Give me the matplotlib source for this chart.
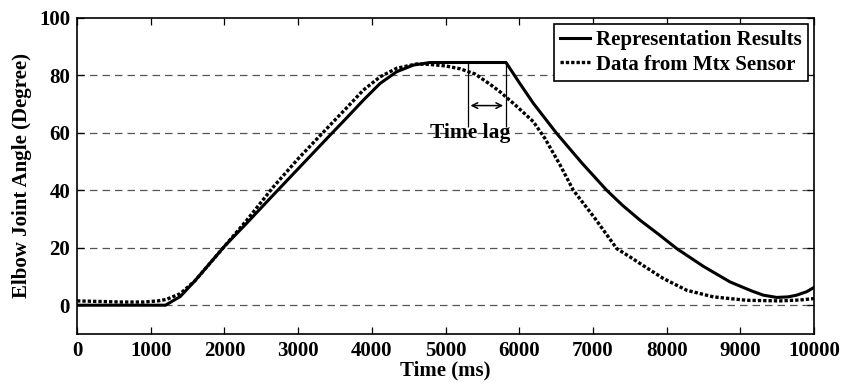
import matplotlib
matplotlib.use('Agg')
import matplotlib.pyplot as plt

plt.rcParams['font.family'] = ['Liberation Serif', 'DejaVu Serif']
plt.rcParams['font.weight'] = 'bold'

# representation results (solid)
t_rep = [0, 1200, 1400, 1600, 1800, 2000, 2300, 2619, 3000, 3433, 3650, 3885,
         4111, 4338, 4563, 4790, 5820, 6000, 6191, 6508, 6850, 7187, 7400, 7639,
         7900, 8137, 8500, 8860, 9000, 9150, 9310, 9494, 9650, 9765, 9900, 10000]
v_rep = [0, 0, 3, 8.5, 14.5, 20.5, 28.5, 37.2, 47.5, 59.2, 65, 71.4,
         77.2, 81.3, 83.6, 84.5, 84.5, 77.5, 70.3, 59.8, 49.5, 40, 34.8, 29.6,
         24.5, 19.7, 13.5, 8.1, 6.6, 5, 3.5, 2.7, 2.9, 3.5, 4.7, 6.2]

# Mtx sensor data (dotted)
t_mtx = [0, 300, 600, 900, 1100, 1210, 1400, 1600, 1800, 2000, 2300, 2664, 3000,
         3433, 3650, 3885, 4111, 4338, 4609, 4800, 5000, 5200, 5400, 5600, 5739,
         5950, 6191, 6350, 6550, 6734, 7028, 7323, 7503, 7700, 7955, 8272, 8634,
         9087, 9539, 9800, 10000]
v_mtx = [1.5, 1.3, 1.1, 1.1, 1.5, 2, 4, 8.5, 14.5, 20.5, 29.5, 41.2, 51,
         62.7, 68.5, 74.9, 79.5, 82.5, 84.0, 83.8, 83.3, 82.3, 80.5, 77, 74.3,
         69.6, 63.9, 58, 49, 40, 30.2, 19.7, 16.8, 13.5, 9.3, 5.2, 2.9,
         1.7, 1.5, 1.8, 2.3]

lag_start, lag_end = 5300, 5820

fig = plt.figure(figsize=(8.56, 3.91), dpi=100)
ax = fig.add_axes([0.09, 0.146, 0.861, 0.808])

for y in [0, 20, 40, 60, 80]:
    ax.axhline(y, color='#555555', lw=0.9, ls=(0, (6, 4)), zorder=0)

ax.plot(t_rep, v_rep, color='black', lw=2.2, label='Representation Results')
ax.plot(t_mtx, v_mtx, color='black', lw=2.4, ls=(0, (1, 0.6)), label='Data from Mtx Sensor')

ax.vlines([lag_start, lag_end], 62, 84.5, color='black', lw=0.9)
ax.annotate('', xy=(lag_start, 69.5), xytext=(lag_end, 69.5),
            arrowprops=dict(arrowstyle='<->', color='black', lw=1.1))
ax.text(5340, 60, 'Time lag', ha='center', va='center', fontsize=15.5, fontweight='bold')

ax.set_xlim(0, 10000)
ax.set_ylim(-10, 100)
ax.set_xticks(range(0, 10001, 1000))
ax.set_yticks(range(0, 101, 20))
ax.tick_params(direction='in', top=True, right=True, labelsize=15, length=5, width=0.9, pad=5)
for s in ax.spines.values():
    s.set_linewidth(1.2)

ax.set_xlabel('Time (ms)', fontsize=15, fontweight='bold', labelpad=0)
ax.set_ylabel('Elbow Joint Angle (Degree)', fontsize=15, fontweight='bold', labelpad=5)

leg = ax.legend(loc='upper right', fontsize=15, frameon=True, fancybox=False,
                handlelength=1.4, handletextpad=0.3, borderpad=0.3, labelspacing=0.2,
                borderaxespad=0.3, framealpha=1)
leg.get_frame().set_edgecolor('black')
leg.get_frame().set_linewidth(1.2)

fig.savefig('out.png', dpi=100)
